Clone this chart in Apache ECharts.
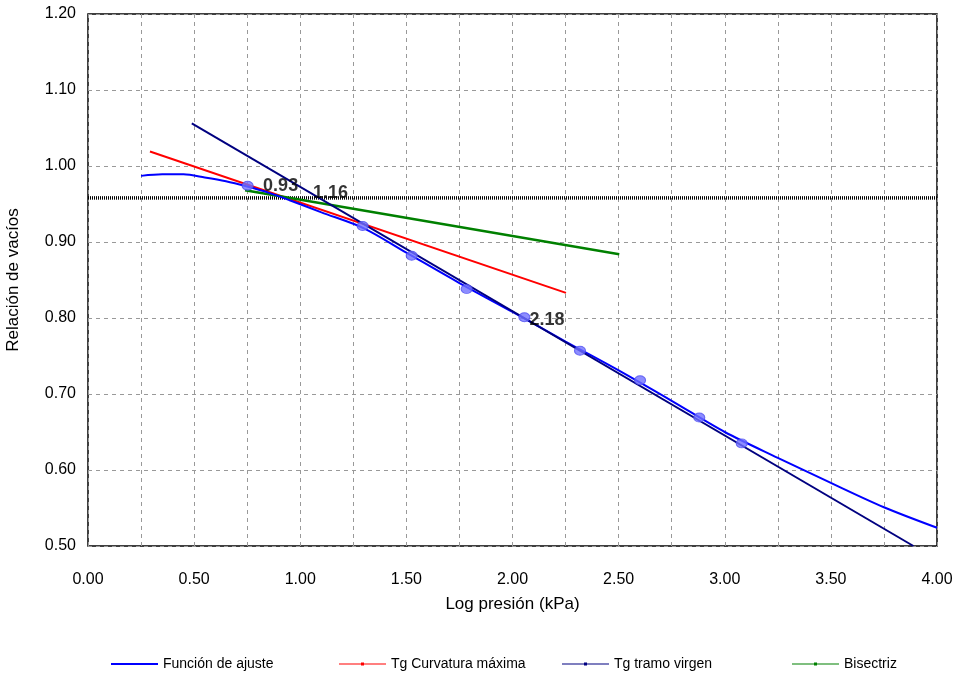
<!DOCTYPE html>
<html>
<head>
<meta charset="utf-8">
<script src="https://cdn.jsdelivr.net/npm/echarts@6/dist/echarts.min.js"></script>
<style>
  html, body { margin: 0; padding: 0; background: #fff; }
  #chart { width: 956px; height: 674px; }
</style>
</head>
<body>
<div id="chart"></div>
<script>
// curva de ajuste
const fitX = [0.25, 0.35, 0.45, 0.55, 0.65, 0.75, 0.85, 0.95, 1.10, 1.30, 1.50, 1.75, 2.00, 2.25, 2.50, 2.75, 3.00, 3.25, 3.50, 3.75, 4.00];
const fitY = [0.987, 0.989, 0.989, 0.985, 0.980, 0.973, 0.965, 0.955, 0.939, 0.918, 0.886, 0.846, 0.808, 0.769, 0.731, 0.691, 0.650, 0.616, 0.583, 0.551, 0.524];

// puntos del ensayo
const ptsX = [0.752, 1.294, 1.525, 1.784, 2.056, 2.318, 2.601, 2.880, 3.080];
const ptsY = [0.974, 0.921, 0.882, 0.838, 0.801, 0.757, 0.718, 0.669, 0.635];

// tangentes y bisectriz
const redX = [0.292, 2.252];
const redY = [1.019, 0.833];
const navyX = [0.489, 3.889];
const navyY = [1.056, 0.500];
const greenX = [0.740, 2.503];
const greenY = [0.968, 0.884];

// horizontal
const horizX = [0.0, 4.0];
const horizY = [0.958, 0.958];

// etiquetas
const annText = ["0.93", "1.16", "2.18"];
const annX = [0.825, 1.060, 2.080];
const annY = [0.974, 0.9645, 0.797];

const legendNames = ["Función de ajuste", "Tg Curvatura máxima", "Tg tramo virgen", "Bisectriz"];
const legendLeft = [106, 334, 557, 787];

const zip = (xs, ys) => xs.map((x, i) => [x, ys[i]]);

const chart = echarts.init(document.getElementById("chart"));

const FONT = "Liberation Sans, Arial, sans-serif";
const ICON_LINE = "path://M0,0h47v2h-47z";
const ICON_DOT = "path://M0,1h47v1h-47z M22,0h3v3h-3z";

chart.setOption({
  backgroundColor: "#fff",
  animation: false,
  grid: {
    left: 88, right: 19, top: 14, bottom: 128,
    outerBoundsMode: "none", containLabel: false,
    show: true, borderColor: "#000", borderWidth: 1.5,
  },
  legend: legendNames.map((n, i) => ({
    data: [{ name: n, icon: i === 0 ? ICON_LINE : ICON_DOT }],
    left: legendLeft[i],
    top: 652,
    itemWidth: 47,
    itemHeight: i === 0 ? 2 : 3,
    itemGap: 10,
    textStyle: { fontFamily: FONT, fontSize: 14, color: "#000" },
  })),
  xAxis: {
    type: "value",
    min: 0,
    max: 4,
    interval: 0.25,
    name: "Log presión (kPa)",
    nameLocation: "middle",
    nameGap: 50,
    nameTextStyle: { fontFamily: FONT, fontSize: 17, color: "#000" },
    axisLine: { show: false },
    axisTick: { show: false },
    axisLabel: {
      margin: 26,
      fontFamily: FONT,
      fontSize: 16,
      color: "#000",
      formatter: v => (Math.round(v * 100) % 50 === 0 ? v.toFixed(2) : ""),
    },
    splitLine: { show: true, lineStyle: { color: "#999", type: [4, 4], width: 1 } },
  },
  yAxis: {
    type: "value",
    min: 0.5,
    max: 1.2,
    interval: 0.1,
    name: "Relación de vacíos",
    nameLocation: "middle",
    nameGap: 66,
    nameTextStyle: { fontFamily: FONT, fontSize: 17, color: "#000" },
    axisLine: { show: false },
    axisTick: { show: false },
    axisLabel: { margin: 12, fontFamily: FONT, fontSize: 16, color: "#000", formatter: v => v.toFixed(2) },
    splitLine: { show: true, lineStyle: { color: "#999", type: [4, 4], width: 1 } },
  },
  series: [
    {
      name: "Función de ajuste",
      type: "line",
      data: zip(fitX, fitY),
      smooth: 0.3,
      symbol: "none",
      lineStyle: { color: "#0000ff", width: 2 },
      itemStyle: { color: "#0000ff" },
      z: 3,
    },
    {
      name: "Tg Curvatura máxima",
      type: "line",
      data: zip(redX, redY),
      symbol: "none",
      lineStyle: { color: "#ff0000", width: 2 },
      itemStyle: { color: "#ff0000" },
      z: 2,
    },
    {
      name: "Tg tramo virgen",
      type: "line",
      data: zip(navyX, navyY),
      symbol: "none",
      lineStyle: { color: "#000080", width: 2 },
      itemStyle: { color: "#000080" },
      z: 4,
    },
    {
      name: "Bisectriz",
      type: "line",
      data: zip(greenX, greenY),
      symbol: "none",
      lineStyle: { color: "#008000", width: 2.5 },
      itemStyle: { color: "#008000" },
      z: 2,
    },
    {
      name: "horizontal",
      type: "line",
      data: zip(horizX, horizY),
      symbol: "none",
      lineStyle: { color: "#000", width: 3.5, type: [1, 1] },
      z: 1,
    },
    {
      name: "puntos",
      type: "scatter",
      data: zip(ptsX, ptsY),
      symbol: "circle",
      symbolSize: [11, 9],
      itemStyle: { color: "#7070ff", borderColor: "#5050f0", borderWidth: 1 },
      z: 5,
    },
    {
      name: "etiquetas",
      type: "scatter",
      data: annX.map((x, i) => [x, annY[i], annText[i]]),
      symbolSize: 0,
      label: {
        show: true,
        position: "right",
        distance: 0,
        formatter: p => p.data[2],
        fontFamily: FONT,
        fontSize: 18,
        fontWeight: "bold",
        color: "#000",
      },
      z: 6,
    },
  ],
});
</script>
</body>
</html>
